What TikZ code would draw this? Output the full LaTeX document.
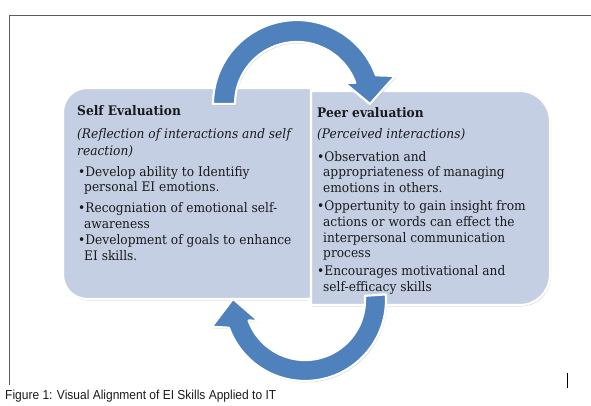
\documentclass[tikz,border=0pt]{standalone}
\usepackage{fontspec}
\setmainfont{DejaVu Serif}
\newfontfamily\capfont{Liberation Sans}
\usetikzlibrary{calc,shadows}
\definecolor{boxfill}{HTML}{C4CFE4}
\definecolor{arrowblue}{HTML}{4F81BD}
\definecolor{framegray}{HTML}{5A5A5A}
\definecolor{ink}{HTML}{1A1A1A}
\newcommand{\bodyfont}{\fontsize{12.2}{15.6}\selectfont}
% body lines are set slightly taller than wide
\newcommand{\tall}[1]{\scalebox{1}[1.08]{#1}}
\begin{document}
\begin{tikzpicture}[x=1pt,y=-1pt,
  panel/.style={fill=boxfill, draw=white, line width=2.2pt,
    drop shadow={opacity=0.3, shadow xshift=1pt, shadow yshift=-1.5pt}},
  cyclearrow/.style={fill=arrowblue, draw=white, line width=2.2pt, line join=round,
    drop shadow={opacity=0.3, shadow xshift=1pt, shadow yshift=-1.5pt}},
  ln/.style={anchor=base west, inner sep=0pt, font=\bodyfont, text=ink},
  hd/.style={ln, font=\bodyfont\bfseries},
  it/.style={ln, font=\bodyfont\itshape}]
\useasboundingbox (0,0) rectangle (591,405);

% page frame
\draw[framegray, line width=0.8pt] (9,385) -- (9,15) -- (591,15);

% left panel (extends under the right one)
\draw[panel, rounded corners=24] (63,88) rectangle (330,299);

% right panel: square on the left, rounded on the right
\path[panel] (311,91) -- (520,91) arc[start angle=270, end angle=360, radius=30]
  -- (550,275) arc[start angle=0, end angle=90, radius=30] -- (311,305) -- cycle;

% upper cycle arrow
\coordinate (c1) at (297,104);
\path[cyclearrow] ($(c1)+(180:84)$) arc[start angle=180, end angle=340, radius=84]
  -- ($(c1)+(344:102)$) -- ($(c1)+(0:73)$) -- ($(c1)+(336:52)$)
  -- ($(c1)+(340:62)$) arc[start angle=340, end angle=180, radius=62] -- cycle;

% lower cycle arrow
\coordinate (c2) at (305,300);
\path[cyclearrow] ($(c2)+(-4:81)$) arc[start angle=-4, end angle=160, radius=81]
  -- ($(c2)+(164:97)$) -- ($(c2)+(181:72)$) -- ($(c2)+(156:51)$)
  -- ($(c2)+(160:60)$) arc[start angle=160, end angle=-4, radius=60] -- cycle;

% left panel text
\node[hd] (l1) at (77,115) {\tall{Self Evaluation}};
\node[it] (l2) at (77,138) {\tall{(Reflection of interactions and self}};
\node[it] (l3) at (77,155) {\tall{reaction)}};
\node[ln] (l4) at (78,176) {\tall{\textbullet Develop ability to Identifiy}};
\node[ln] (l5) at (84,191) {\tall{personal EI emotions.}};
\node[ln] (l6) at (78,212) {\tall{\textbullet Recogniation of emotional self-}};
\node[ln] (l7) at (84,228) {\tall{awareness}};
\node[ln] (l8) at (78,244) {\tall{\textbullet Development of goals to enhance}};
\node[ln] (l9) at (84,260) {\tall{EI skills.}};

% right panel text
\node[hd] (r1) at (317,117) {\tall{Peer evaluation}};
\node[it] (r2) at (317,138) {\tall{(Perceived interactions)}};
\node[ln] (r3) at (317,161) {\tall{\textbullet Observation and}};
\node[ln] (r4) at (323,176) {\tall{appropriateness of managing}};
\node[ln] (r5) at (323,192) {\tall{emotions in others.}};
\node[ln] (r6) at (317,210) {\tall{\textbullet Oppertunity to gain insight from}};
\node[ln] (r7) at (323,226) {\tall{actions or words can effect the}};
\node[ln] (r8) at (323,242) {\tall{interpersonal communication}};
\node[ln] (r9) at (323,257) {\tall{process}};
\node[ln] (r10) at (317,275) {\tall{\textbullet Encourages motivational and}};
\node[ln] (r11) at (323,291) {\tall{self-efficacy skills}};

% caption and text cursor mark
\node[anchor=base west, inner sep=0pt, font=\capfont\fontsize{12.5}{14}\selectfont, text=ink]
  (caption) at (5,399) {\scalebox{0.96}[1.04]{Figure 1: Visual Alignment of EI Skills Applied to IT}};
\draw[black, line width=0.8pt] (567,373) -- (567,388);
\end{tikzpicture}
\end{document}
